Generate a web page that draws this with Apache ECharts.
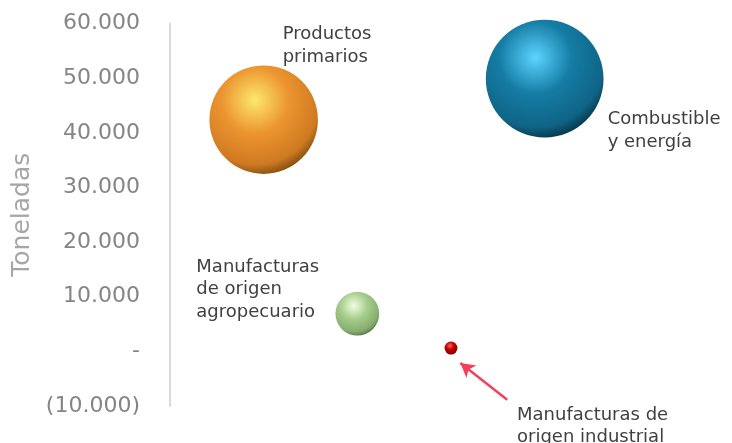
<!DOCTYPE html>
<html>
<head>
<meta charset="utf-8">
<script src="https://cdn.jsdelivr.net/npm/echarts@6/dist/echarts.min.js"></script>
<style>
  html, body { margin: 0; padding: 0; background: #fff; }
  #main { width: 732px; height: 443px; }
</style>
</head>
<body>
<div id="main"></div>
<script>
// datos del grafico
var categorias = ['Productos\nprimarios', 'Manufacturas\nde origen\nagropecuario', 'Manufacturas de\norigen industrial', 'Combustible\ny energía'];
var posX = [1, 2, 3, 4];
var toneladas = [42400, 6900, 600, 49900];
var tamanos = [42400, 6900, 600, 49900]; // tamaño de la burbuja
var flecha = [[3.6, -8850], [3.1, -2150]]; // flecha de anotacion (unidades del eje)

// colores de las esferas: brillo, base, sombra, borde
var colores = [
    ['#fce86e', '#ec942f', '#cf7a22', '#6a3e0c'],
    ['#f2fde4', '#a6cd8b', '#86ad6e', '#4c6440'],
    ['#ff6464', '#c20000', '#9a0000', '#3a0000'],
    ['#5cd4ff', '#157ca4', '#0f6486', '#042636']
];
// desplazamiento de las etiquetas respecto al centro de la burbuja
var desplaz = [[19, -74], [-161, -24], [66, 78], [63, 52]];

function esfera(c) {
    return {
        type: 'radial', x: 0.42, y: 0.32, r: 0.74,
        colorStops: [
            { offset: 0, color: c[0] },
            { offset: 0.42, color: c[1] },
            { offset: 0.8, color: c[2] },
            { offset: 1, color: c[3] }
        ]
    };
}

function fmtMiles(v) {
    if (v === 0) return '-';
    var s = Math.abs(v).toString().replace(/\B(?=(\d{3})+(?!\d))/g, '.');
    return v < 0 ? '(' + s + ')' : s;
}

var datos = [];
for (var i = 0; i < categorias.length; i++) {
    datos.push({
        name: categorias[i],
        value: [posX[i], toneladas[i], tamanos[i]],
        itemStyle: { color: esfera(colores[i]), opacity: 1 },
        label: { offset: desplaz[i] }
    });
}

var myChart = echarts.init(document.getElementById('main'));
var option = {
    animation: false,
    grid: { left: 170, top: 23.5, width: 566, bottom: 37 },
    xAxis: {
        type: 'value', min: 0, max: 6, show: false
    },
    yAxis: {
        type: 'value',
        min: -10000, max: 60000, interval: 10000,
        name: 'Toneladas',
        nameLocation: 'middle',
        nameGap: 131,
        nameTextStyle: { color: '#a6a6a6', fontSize: 25, fontFamily: 'DejaVu Sans' },
        axisLine: { show: true, lineStyle: { color: '#d9d9d9', width: 2 } },
        axisTick: { show: false },
        splitLine: { show: false },
        axisLabel: {
            margin: 30,
            color: '#858585',
            fontSize: 22,
            fontFamily: 'DejaVu Sans',
            formatter: fmtMiles
        }
    },
    series: [{
        type: 'scatter',
        clip: true,
        symbolSize: function (v) { return Math.sqrt(v[2]) * 0.527; },
        data: datos,
        label: {
            show: true,
            position: 'inside',
            align: 'left',
            verticalAlign: 'middle',
            formatter: '{b}',
            color: '#404040',
            fontSize: 18,
            lineHeight: 22.5,
            fontFamily: 'DejaVu Sans'
        },
        emphasis: { disabled: true },
        markLine: {
            silent: true,
            symbol: ['none', 'arrow'],
            symbolSize: [12, 14],
            label: { show: false },
            lineStyle: { color: '#f2415c', width: 2.5, type: 'solid', opacity: 1 },
            data: [[{ coord: flecha[0] }, { coord: flecha[1] }]]
        }
    }]
};
myChart.setOption(option);
</script>
</body>
</html>
